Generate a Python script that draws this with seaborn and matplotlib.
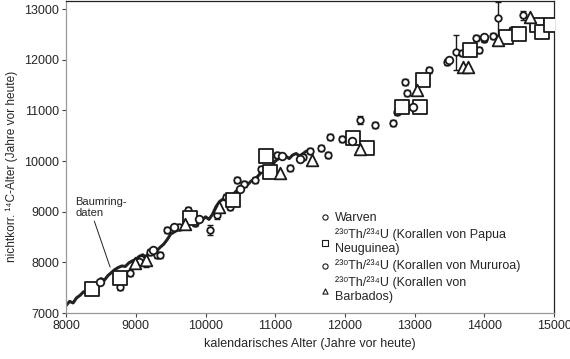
import numpy as np
import pandas as pd
import matplotlib
matplotlib.use("Agg")
import matplotlib.pyplot as plt
import seaborn as sns

# tree ring curve (cal BP, 14C BP)
ring_cal = [8000, 8050, 8100, 8150, 8200, 8250, 8300, 8350, 8400, 8450, 8500, 8550,
            8600, 8650, 8700, 8750, 8800, 8850, 8900, 8950, 9000, 9050, 9100, 9150,
            9200, 9250, 9300, 9350, 9400, 9450, 9500, 9550, 9600, 9650, 9700, 9750,
            9800, 9850, 9900, 9950, 10000, 10050, 10100, 10150, 10200, 10250, 10300,
            10350, 10400, 10450, 10500, 10550, 10600, 10650, 10700, 10750, 10800,
            10850, 10900, 10950, 11000, 11050, 11100, 11150, 11200, 11250, 11300,
            11350, 11400, 11450, 11500]
ring_c14 = [7150, 7230, 7200, 7300, 7350, 7420, 7400, 7480, 7520, 7600, 7680, 7650,
            7740, 7800, 7860, 7900, 7930, 7920, 7990, 8030, 8060, 8120, 8150, 8100,
            8220, 8260, 8230, 8300, 8360, 8450, 8560, 8600, 8640, 8700, 8720, 8780,
            8820, 8800, 8850, 8830, 8900, 8850, 8950, 9100, 9200, 9250, 9230,
            9300, 9350, 9420, 9450, 9480, 9530, 9600, 9640, 9700, 9780,
            9850, 9870, 9900, 10000, 10050, 10080, 10100, 10050, 10120, 10150,
            10100, 10150, 10200, 10180]

# varves
warv_cal = [8775, 8920, 9000, 9080, 9150, 9200, 9300, 9350, 9450, 9620, 9750, 9850,
            10066, 10166, 10300, 10350, 10450, 10550, 10711, 10800, 11027, 11214,
            11400, 11500, 11650, 11760, 11788, 11960, 12218, 12433, 12690, 12750,
            12864, 12892, 12864, 13108, 13208, 13466, 13596, 13680, 13882, 13925,
            13997, 14126, 14200, 14400, 14556]
warv_c14 = [7520, 7790, 7960, 8060, 7980, 8200, 8150, 8140, 8640, 8700, 9030, 8780,
            8640, 8930, 9300, 9090, 9620, 9550, 9620, 9850, 10117, 9860,
            10080, 10200, 10250, 10116, 10471, 10432, 10806, 10708, 10746, 10965,
            11142, 11340, 11556, 11556, 11793, 11950, 12148, 12130, 12424, 12187,
            12404, 12463, 12820, 12580, 12878]
warv_err = [60, 60, 60, 60, 70, 60, 60, 60, 60, 60, 60, 60,
            90, 70, 60, 60, 60, 60, 60, 60, 60, 60,
            60, 60, 60, 60, 60, 60, 80, 60, 60, 60,
            60, 60, 60, 60, 60, 60, 350, 60, 60, 60,
            60, 60, 320, 60, 90]

# 230Th/234U corals, Papua New Guinea
png_cal = [8370, 8770, 9780, 10400, 10870, 10927, 12118, 12318, 12820, 13079,
           13120, 13796, 14310, 14500, 14760, 14830, 14960]
png_c14 = [7480, 7700, 8880, 9230, 10097, 9780, 10450, 10254, 11063, 11063,
           11595, 12187, 12444, 12503, 12680, 12542, 12680]

# Mururoa
mur_cal = [8480, 9050, 9250, 9550, 9900, 10500, 11100, 11350, 12100, 12980, 13500, 14000]
mur_c14 = [7620, 8000, 8250, 8700, 8850, 9450, 10100, 10050, 10400, 11063, 12000, 12450]

# Barbados
barb_cal = [8990, 9150, 9700, 10200, 11070, 11530, 12218, 13036, 13696, 13770, 14200, 14657]
barb_c14 = [7986, 8050, 8750, 9100, 9761, 10020, 10234, 11400, 11852, 11852, 12385, 12838]

sns.set_style("ticks")
plt.rcParams['font.family'] = ['Liberation Sans', 'DejaVu Sans']

fig, ax = plt.subplots(figsize=(5.7, 3.59), dpi=100)
fig.subplots_adjust(left=0.116, right=0.972, bottom=0.128, top=0.997)

ring = pd.DataFrame({"cal": ring_cal, "c14": ring_c14})
sns.lineplot(data=ring, x="cal", y="c14", ax=ax, color="#222222", lw=2.2)

ax.errorbar(warv_cal, warv_c14, yerr=warv_err, fmt="none", ecolor="#1a1a1a",
            elinewidth=1.0, capsize=2.5, capthick=1.0, zorder=3)
sns.scatterplot(x=warv_cal, y=warv_c14, ax=ax, marker="o", s=22, facecolor="white",
                edgecolor="#1a1a1a", linewidth=1.3, zorder=4, label="Warven")
sns.scatterplot(x=png_cal, y=png_c14, ax=ax, marker="s", s=90, facecolor="white",
                edgecolor="#1a1a1a", linewidth=1.3, zorder=4,
                label="²³⁰Th/²³⁴U (Korallen von Papua\nNeuguinea)")
sns.scatterplot(x=mur_cal, y=mur_c14, ax=ax, marker="o", s=30, facecolor="white",
                edgecolor="#1a1a1a", linewidth=1.3, zorder=4,
                label="²³⁰Th/²³⁴U (Korallen von Mururoa)")
sns.scatterplot(x=barb_cal, y=barb_c14, ax=ax, marker="^", s=70, facecolor="white",
                edgecolor="#1a1a1a", linewidth=1.3, zorder=4,
                label="²³⁰Th/²³⁴U (Korallen von\nBarbados)")

ax.annotate("Baumring-\ndaten", xy=(8631, 7907), xytext=(8129, 8880),
            fontsize=8, va="bottom", ha="left", linespacing=1.1,
            arrowprops=dict(arrowstyle="-", color="#222222", lw=0.7,
                            shrinkA=0, shrinkB=0, relpos=(0.35, 0)))

ax.set_xlim(8000, 15000)
ax.set_ylim(7000, 13160)
ax.set_xticks(np.arange(8000, 15001, 1000))
ax.set_yticks(np.arange(7000, 13001, 1000))
ax.tick_params(labelsize=9, length=3, width=0.8, color="#444444", pad=2)
ax.set_xlabel("kalendarisches Alter (Jahre vor heute)", fontsize=9)
ax.set_ylabel("nichtkorr. ¹⁴C-Alter (Jahre vor heute)", fontsize=8.6)
ax.yaxis.set_label_coords(-0.098, 0.47)
for sp in ax.spines.values():
    sp.set_visible(True)
    sp.set_linewidth(0.9)
    sp.set_color("#222222")
ax.spines["left"].set_color("#999999")
ax.spines["bottom"].set_color("#999999")

leg = ax.legend(loc="upper left", bbox_to_anchor=(0.52, 0.325), frameon=False,
                fontsize=9, handletextpad=0.3, labelspacing=0.35,
                handlelength=0.9, borderaxespad=0, borderpad=0)
for h in leg.legend_handles:
    h.set_sizes([14])
    h.set_linewidth(0.8)

fig.savefig("out.png", dpi=100)
